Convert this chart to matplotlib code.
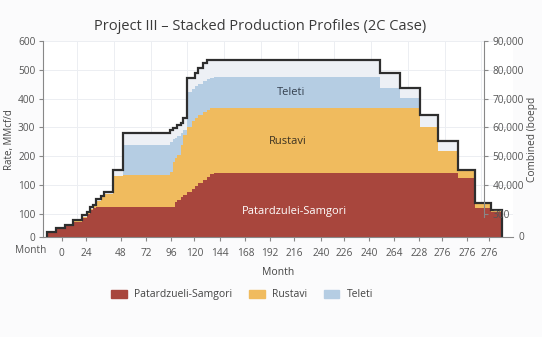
import numpy as np
import matplotlib.pyplot as plt
from matplotlib.patches import Patch

plt.rcParams['font.family'] = ['Open Sans', 'DejaVu Sans']

# step edges in months (last entry = end of production)
months = [-24, -16, -7, 1, 10, 15, 18, 21, 24, 28, 31, 40, 50, 96, 99, 101, 103, 107, 109,
          113, 118, 121, 123, 128, 132, 135, 139, 302, 321, 341, 359, 378, 395, 411, 421]
patardzueli = [17, 31, 42, 52, 66, 80, 94, 101, 104, 104, 104, 104, 104, 104, 104, 121, 128,
               139, 146, 156, 167, 177, 187, 198, 208, 219, 222, 222, 222, 222, 222, 205, 101, 87]
rustavi = [0, 0, 0, 3, 3, 3, 3, 7, 21, 35, 45, 108, 111, 121, 156, 153, 156, 180, 208,
           225, 236, 236, 236, 236, 232, 229, 225, 225, 225, 160, 76, 24, 14, 3]
teleti = [0] * 12 + [104, 104, 80, 69, 66, 42, 17, 121, 111, 111, 108, 108, 108, 104, 108,
                     69, 35, 0, 0, 0, 0, 0]
combined = [17, 31, 42, 59, 76, 87, 104, 111, 132, 142, 156, 232, 361, 371, 378, 378, 389,
            395, 413, 552, 552, 569, 586, 604, 614, 614, 614, 569, 517, 423, 333, 232, 118, 94]

xtick_pos = [-10, 14, 48, 73, 97, 120, 145, 170, 194, 218, 244, 267, 291, 316, 340, 363, 387, 409]
xtick_labels = ['0', '24', '48', '72', '96', '120', '144', '168', '192', '216', '240', '226',
                '240', '264', '228', '276', '276', '276']
ytick_pos = [0, 80, 180, 280, 380, 480, 580, 680]
ytick_left = ['0', '100', '100', '200', '300', '400', '500', '600']
ytick_right = ['300', '40,000', '50,000', '60,000', '70,000', '80,000', '90,000']

c_red = '#a8463d'
c_yel = '#f0bb5e'
c_blue = '#b5cde3'
c_gap = '#edf0f5'

fig = plt.figure(figsize=(5.42, 3.37), dpi=100, facecolor='#fbfbfc')
ax = fig.add_axes([0.0793, 0.2967, 0.867, 0.5816])
ax.set_facecolor('white')

edges = np.array(months)
p = np.array(patardzueli)
r = p + np.array(rustavi)
t = r + np.array(teleti)
tot = np.array(combined)

ax.stairs(tot, edges, baseline=t, fill=True, color=c_gap, lw=0)
ax.stairs(t, edges, baseline=r, fill=True, color=c_blue, lw=0)
ax.stairs(r, edges, baseline=p, fill=True, color=c_yel, lw=0)
ax.stairs(p, edges, baseline=0, fill=True, color=c_red, lw=0)
ax.stairs(tot, edges, baseline=0, color='#2e2e2e', lw=1.6)

ax.text(215, 500, 'Teleti', ha='center', va='center', fontsize=8, color='#34404f')
ax.text(211, 330, 'Rustavi', ha='center', va='center', fontsize=8, color='#3d3322')
ax.text(218, 87, 'Patardzulei-Samgori', ha='center', va='center', fontsize=8, color='white')

ax.set_xlim(-28.4, 432)
ax.set_ylim(0, 680)

# faint grid
ax.set_xticks(np.arange(5, 420, 36), minor=True)
ax.grid(True, which='minor', axis='x', color='#eceef2', lw=0.7)
ax.grid(True, which='major', axis='y', color='#eceef2', lw=0.7)
ax.set_axisbelow(True)
ax.tick_params(axis='x', which='minor', length=0)

ax.set_xticks(xtick_pos)
ax.set_xticklabels(xtick_labels)
ax.set_yticks(ytick_pos)
ax.set_yticklabels(ytick_left)
ax.tick_params(axis='both', labelsize=7.3, labelcolor='#555555', color='#888888',
               length=3, width=0.8)
ax.tick_params(axis='x', pad=5)
ax.tick_params(axis='y', pad=2.5)
for s in ['top', 'right']:
    ax.spines[s].set_visible(False)
for s in ['left', 'bottom']:
    ax.spines[s].set_color('#888888')
    ax.spines[s].set_linewidth(0.8)

ax.text(-40, -0.07, 'Month', transform=ax.get_xaxis_transform(), ha='center', va='center',
        fontsize=7.3, color='#555555', clip_on=False)
ax.set_xlabel('Month', fontsize=7.5, color='#444444', labelpad=6)
fig.text(0.017, 0.585, 'Rate, MMcf/d', rotation=90, ha='center', va='center',
         fontsize=7, color='#444444')

ax2 = ax.twinx()
ax2.set_ylim(0, 680)
ax2.spines['right'].set_position(('axes', 0.938))
ax2.spines['right'].set_bounds(70, 680)
ax2.spines['right'].set_color('#888888')
ax2.spines['right'].set_linewidth(0.8)
for s in ['top', 'left', 'bottom']:
    ax2.spines[s].set_visible(False)
ax2.set_yticks(ytick_pos[1:])
ax2.set_yticklabels(ytick_right)
ax2.tick_params(axis='y', labelsize=7.3, labelcolor='#555555', color='#888888',
                length=3, width=0.8)
ax2.text(1.012, 0, '0', transform=ax2.transAxes, ha='left', va='center',
         fontsize=7.3, color='#555555')
fig.text(0.982, 0.585, 'Combined (boepd', rotation=90, ha='center', va='center',
         fontsize=7.3, color='#444444')

fig.suptitle('Project III \u2013 Stacked Production Profiles (2C Case)', x=0.48, y=0.945,
             fontsize=10.5, color='#3a3a3a')

handles = [Patch(color=c_red), Patch(color=c_yel), Patch(color=c_blue)]
fig.legend(handles, ['Patardzueli-Samgori', 'Rustavi', 'Teleti'], loc='center',
           bbox_to_anchor=(0.447, 0.125), ncol=3, frameon=False, fontsize=7.5,
           handlelength=1.5, handleheight=0.8, handletextpad=0.7, columnspacing=1.6,
           labelcolor='#444444')

fig.savefig('out.png', dpi=100, facecolor=fig.get_facecolor())
